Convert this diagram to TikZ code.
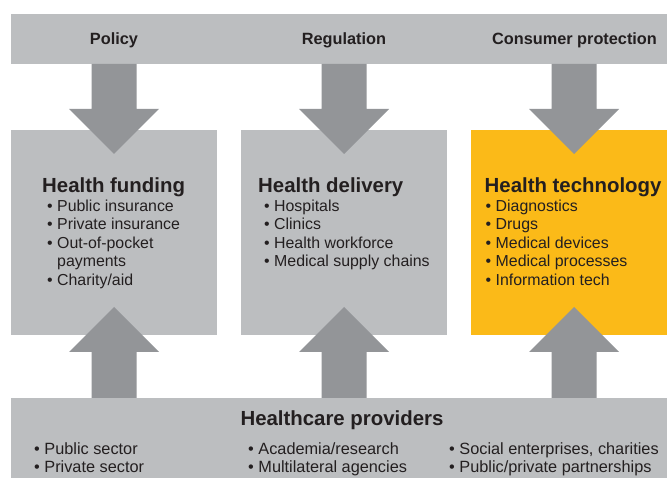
\documentclass[tikz,border=0pt]{standalone}
\usepackage{fontspec}
\setmainfont{Liberation Sans}
\usetikzlibrary{calc}
\definecolor{bandgray}{HTML}{BCBEC0}
\definecolor{arrowgray}{HTML}{939598}
\definecolor{techyellow}{HTML}{FBBA18}
\definecolor{inkc}{HTML}{231F20}
\tikzset{
  panel/.style={draw=none, fill=bandgray, inner sep=0pt, outer sep=0pt, anchor=north west},
  blockarrow/.style={fill=arrowgray, draw=none},
  toplabel/.style={font=\bfseries\fontsize{16.3}{19}\selectfont, text=inkc, inner sep=0pt, anchor=base},
  heading/.style={font=\bfseries\fontsize{20.4}{24}\selectfont, text=inkc, inner sep=0pt, anchor=base west},
  item/.style={font=\fontsize{15.9}{19}\selectfont, text=inkc, inner sep=0pt, anchor=base west},
  bitem/.style={font=\fontsize{16.3}{19}\selectfont, text=inkc, inner sep=0pt, anchor=base west}
}
% block arrow from the south side of #1 down into the north side of #2, centred at x=#3
\newcommand\DownBlock[3]{%
  \fill[blockarrow] let \p1=(#1.south), \p2=(#2.north) in
    (#3pt-22.5pt,\y1) -- (#3pt+22.5pt,\y1) -- (#3pt+22.5pt,\y2+21pt)
    -- (#3pt+45pt,\y2+21pt) -- (#3pt,\y2-24pt) -- (#3pt-45pt,\y2+21pt)
    -- (#3pt-22.5pt,\y2+21pt) -- cycle;}
% block arrow from the north side of #1 up into the south side of #2, centred at x=#3
\newcommand\UpBlock[3]{%
  \fill[blockarrow] let \p1=(#1.north), \p2=(#2.south) in
    (#3pt-22.5pt,\y1) -- (#3pt+22.5pt,\y1) -- (#3pt+22.5pt,\y2-17pt)
    -- (#3pt+45pt,\y2-17pt) -- (#3pt,\y2+28pt) -- (#3pt-45pt,\y2-17pt)
    -- (#3pt-22.5pt,\y2-17pt) -- cycle;}
\begin{document}
\begin{tikzpicture}[x=1pt, y=-1pt]
\useasboundingbox (0,0) rectangle (667,478);
\fill[white] (0,0) rectangle (667,478);

% panels
\node[panel, minimum width=656pt, minimum height=50pt] (topband) at (11,14) {};
\node[panel, minimum width=206pt, minimum height=205pt] (fund) at (11,130) {};
\node[panel, minimum width=206pt, minimum height=205pt] (deliv) at (241,130) {};
\node[panel, fill=techyellow, minimum width=196pt, minimum height=205pt] (tech) at (471,130) {};
\node[panel, minimum width=656pt, minimum height=80pt] (providers) at (11,398) {};

% arrows
\DownBlock{topband}{fund}{114}
\DownBlock{topband}{deliv}{344}
\DownBlock{topband}{tech}{574}
\UpBlock{providers}{fund}{114}
\UpBlock{providers}{deliv}{344}
\UpBlock{providers}{tech}{574}

% top labels
\node[toplabel] (lpolicy) at (114,44.5) {Policy};
\node[toplabel] (lreg) at (344,44.5) {Regulation};
\node[toplabel] (lcons) at (574.5,44.5) {Consumer protection};

% Health funding
\node[heading] (hfund) at (42,193) {Health funding};
\node[item] (f1) at (47,211.5) {\textbullet\ Public insurance};
\node[item] (f2) at (47,230) {\textbullet\ Private insurance};
\node[item] (f3) at (47,248.5) {\textbullet\ Out-of-pocket};
\node[item] (f4) at (47,267) {\phantom{\textbullet\ }payments};
\node[item] (f5) at (47,285.5) {\textbullet\ Charity/aid};

% Health delivery
\node[heading] (hdeliv) at (258,193) {Health delivery};
\node[item] (d1) at (264,211.5) {\textbullet\ Hospitals};
\node[item] (d2) at (264,230) {\textbullet\ Clinics};
\node[item] (d3) at (264,248.5) {\textbullet\ Health workforce};
\node[item] (d4) at (264,267) {\textbullet\ Medical supply chains};

% Health technology
\node[heading] (htech) at (484.5,193) {Health technology};
\node[item] (t1) at (485.5,211.5) {\textbullet\ Diagnostics};
\node[item] (t2) at (485.5,230) {\textbullet\ Drugs};
\node[item] (t3) at (485.5,248.5) {\textbullet\ Medical devices};
\node[item] (t4) at (485.5,267) {\textbullet\ Medical processes};
\node[item] (t5) at (485.5,285.5) {\textbullet\ Information tech};

% Healthcare providers
\node[heading, anchor=base] (hprov) at (342,425) {Healthcare providers};
\node[bitem] (p1) at (34,454) {\textbullet\ Public sector};
\node[bitem] (p2) at (34,472) {\textbullet\ Private sector};
\node[bitem] (p3) at (248,454) {\textbullet\ Academia/research};
\node[bitem] (p4) at (248,472) {\textbullet\ Multilateral agencies};
\node[bitem] (p5) at (449,454) {\textbullet\ Social enterprises, charities};
\node[bitem] (p6) at (449,472) {\textbullet\ Public/private partnerships};
\end{tikzpicture}
\end{document}
